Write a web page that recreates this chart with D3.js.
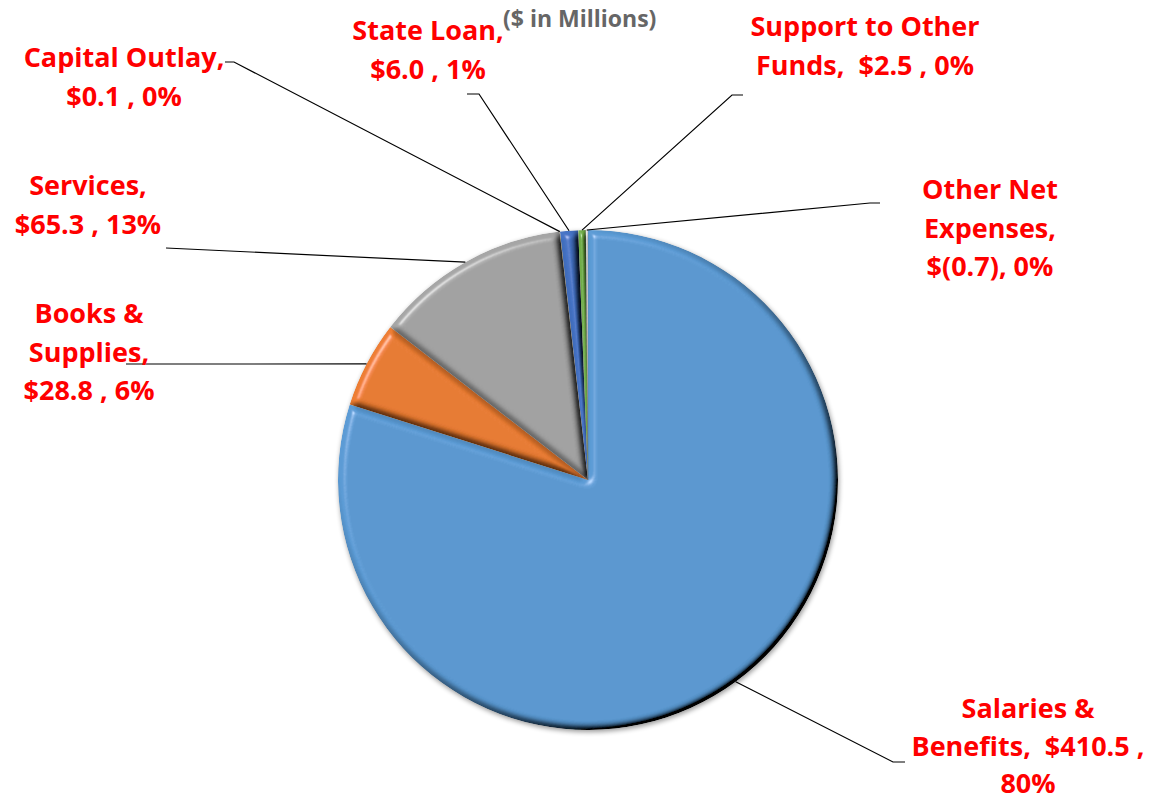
<!DOCTYPE html>
<html>
<head>
<meta charset="utf-8">
<script src="https://cdn.jsdelivr.net/npm/d3@7"></script>
<style>
  body { margin: 0; background: #fff; }
  svg text { font-family: "Open Sans", "Noto Sans", Lato, sans-serif; font-weight: 700; }
</style>
</head>
<body>
<div id="chart"></div>
<script>
// Expense categories ($ in Millions), in the order they appear clockwise from 12 o'clock
var categories = ["Salaries & Benefits", "Books & Supplies", "Services", "Capital Outlay",
                  "State Loan", "Support to Other Funds", "Other Net Expenses"];
var amounts = [410.5, 28.8, 65.3, 0.1, 6.0, 2.5, -0.7];
var percentLabels = ["80%", "6%", "13%", "0%", "1%", "0%", "0%"];
var amountLabels = ["$410.5", "$28.8", "$65.3", "$0.1", "$6.0", "$2.5", "$(0.7)"];
var sliceColors = ["#5b9bd5", "#ed7d31", "#a5a5a5", "#ffc000", "#4472c4", "#70ad47", "#ffffff"];

// label text lines, split the way the picture wraps them
var labelLines = [
    ["Salaries &", "Benefits,  " + amountLabels[0] + " ,", percentLabels[0]],
    ["Books &", "Supplies,", amountLabels[1] + " , " + percentLabels[1]],
    ["Services,", amountLabels[2] + " , " + percentLabels[2]],
    ["Capital Outlay,", amountLabels[3] + " , " + percentLabels[3]],
    ["State Loan,", amountLabels[4] + " , " + percentLabels[4]],
    ["Support to Other", "Funds,  " + amountLabels[5] + " , " + percentLabels[5]],
    ["Other Net", "Expenses,", amountLabels[6] + ", " + percentLabels[6]]
];

//label layout: centre x, first baseline, line step, and the leader line bend/end points
var labelLayout = [
    {x: 1028, y: 718, step: 37.5, bend: [893, 762], end: [905, 762]},
    {x: 89, y: 323, step: 38.5, bend: null, end: [126, 364]},
    {x: 88, y: 195, step: 38.5, bend: null, end: [166, 248]},
    {x: 124, y: 67, step: 38.5, bend: [234, 62], end: [225, 62]},
    {x: 428, y: 40, step: 38.5, bend: [479, 94], end: [467, 94]},
    {x: 865, y: 36, step: 38.5, bend: [732, 95], end: [743, 95]},
    {x: 990, y: 199, step: 38.5, bend: [870, 203], end: [880, 203]}
];

var width = 1149, height = 802;
var cx = 588, cy = 480, radius = 250;

var svg = d3.select("#chart").append("svg")
    .attr("width", width).attr("height", height);

var defs = svg.append("defs");

// bevel look of the slices, done with lighting filters
var bevel = defs.append("filter").attr("id", "bevel")
    .attr("x", "-20%").attr("y", "-20%").attr("width", "140%").attr("height", "140%");
bevel.append("feGaussianBlur").attr("in", "SourceAlpha").attr("stdDeviation", 3.5).attr("result", "blur");
var diff = bevel.append("feDiffuseLighting").attr("in", "blur").attr("surfaceScale", 8)
    .attr("diffuseConstant", 1.22).attr("lighting-color", "#fff").attr("result", "diff");
diff.append("feDistantLight").attr("azimuth", 225).attr("elevation", 50);
bevel.append("feComposite").attr("in", "SourceGraphic").attr("in2", "diff")
    .attr("operator", "arithmetic").attr("k1", 1).attr("k2", 0).attr("k3", 0).attr("k4", 0)
    .attr("result", "shaded");
var spec = bevel.append("feSpecularLighting").attr("in", "blur").attr("surfaceScale", 8)
    .attr("specularConstant", 0.6).attr("specularExponent", 30).attr("lighting-color", "#fff")
    .attr("result", "spec");
spec.append("feDistantLight").attr("azimuth", 225).attr("elevation", 35);
bevel.append("feComposite").attr("in", "spec").attr("in2", "SourceAlpha")
    .attr("operator", "in").attr("result", "specIn");
bevel.append("feComposite").attr("in", "shaded").attr("in2", "specIn")
    .attr("operator", "arithmetic").attr("k1", 0).attr("k2", 1).attr("k3", 0.6).attr("k4", 0)
    .attr("result", "lit");
bevel.append("feComposite").attr("in", "lit").attr("in2", "SourceAlpha").attr("operator", "in");

// soft shadow under the whole pie
var shadow = defs.append("filter").attr("id", "shadow")
    .attr("x", "-20%").attr("y", "-20%").attr("width", "140%").attr("height", "140%");
shadow.append("feGaussianBlur").attr("in", "SourceAlpha").attr("stdDeviation", 2.5);
shadow.append("feOffset").attr("dx", 1).attr("dy", 2).attr("result", "off");
shadow.append("feComponentTransfer").append("feFuncA").attr("type", "linear").attr("slope", 0.4);

var data = categories.map(function (c, i) {
    return {name: c, value: amounts[i], color: sliceColors[i], lines: labelLines[i], lay: labelLayout[i]};
});

// Excel plots a negative slice by its absolute value
var pie = d3.pie().sort(null).value(function (d) { return Math.abs(d.value); });
var arcs = pie(data);

var arc = d3.arc().innerRadius(0).outerRadius(radius);

var g = svg.append("g").attr("transform", "translate(" + cx + "," + cy + ")");

g.append("circle").attr("r", radius).attr("fill", "#000").attr("filter", "url(#shadow)");

g.selectAll(".slice")
    .data(arcs)
    .enter().append("path")
    .attr("class", "slice")
    .attr("d", arc)
    .attr("fill", function (d) { return d.data.color; })
    .attr("stroke", function (d) { return d.data.value < 0 ? "#555" : "none"; })
    .attr("stroke-width", 0.6)
    .attr("filter", "url(#bevel)");

// leader lines from the middle of each slice's rim
var leaders = svg.append("g").attr("fill", "none").attr("stroke", "#000").attr("stroke-width", 1.2);
arcs.forEach(function (d) {
    var mid = (d.startAngle + d.endAngle) / 2;
    var p0 = [cx + radius * Math.sin(mid), cy - radius * Math.cos(mid)];
    var pts = [p0];
    if (d.data.lay.bend) pts.push(d.data.lay.bend);
    pts.push(d.data.lay.end);
    leaders.append("path").attr("d", d3.line()(pts));
});

// labels
var labels = svg.append("g");
data.forEach(function (d) {
    var t = labels.append("text")
        .attr("text-anchor", "middle")
        .attr("fill", "#ff0000")
        .attr("font-size", 27)
        .attr("xml:space", "preserve");
    d.lines.forEach(function (ln, j) {
        t.append("tspan").attr("x", d.lay.x).attr("y", d.lay.y + j * d.lay.step).text(ln);
    });
});

// chart title
svg.append("text")
    .attr("x", 503).attr("y", 27)
    .attr("fill", "#666666")
    .attr("font-size", 23)
    .text("($ in Millions)");
</script>
</body>
</html>
